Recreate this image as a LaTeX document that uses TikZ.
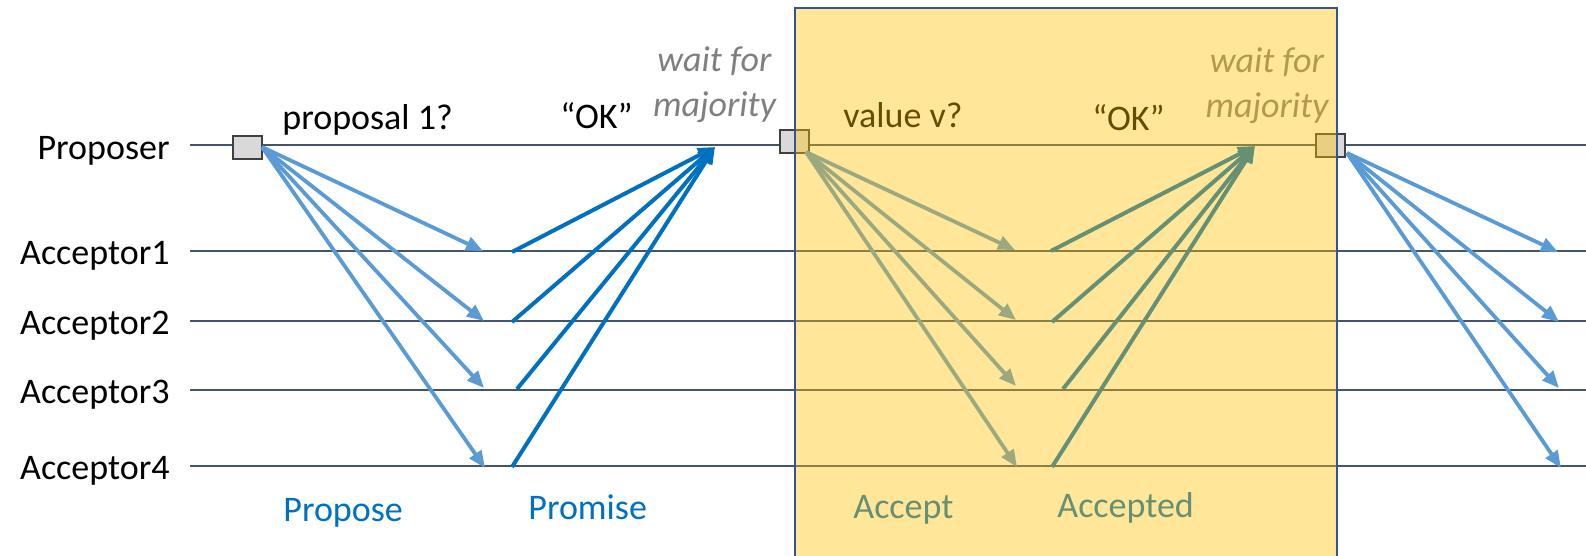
\documentclass[tikz,border=0pt]{standalone}
\usepackage{fontspec}
\setmainfont{Carlito}
\usetikzlibrary{arrows.meta}
\definecolor{lanecol}{HTML}{44546A}
\definecolor{reqblue}{HTML}{5B9BD5}
\definecolor{repblue}{HTML}{0070C0}
\definecolor{notegray}{HTML}{7F7F7F}
\definecolor{boxfill}{HTML}{D9D9D9}
\definecolor{boxline}{HTML}{404040}
\definecolor{phasefill}{HTML}{FFC000}
\definecolor{phaseline}{HTML}{2F5597}
\begin{document}
\begin{tikzpicture}[x=0.5pt,y=-0.5pt,
  lane/.style={draw=lanecol, line width=1pt},
  msgbox/.style={draw=boxline, fill=boxfill, line width=1pt, minimum width=14.5pt, minimum height=11.5pt, inner sep=0pt},
  req/.style={draw=reqblue, line width=1.9pt, -{Triangle[length=8.5pt,width=7pt]}},
  rep/.style={draw=repblue, line width=2pt, -{Triangle[length=8.5pt,width=7pt]}},
  lbl/.style={inner sep=0pt, font=\fontsize{18}{22}\selectfont},
  note/.style={inner sep=0pt, text=notegray, font=\fontsize{18}{22}\selectfont\itshape},
  phase/.style={inner sep=0pt, text=repblue, font=\fontsize{18}{22}\selectfont}]
\useasboundingbox (0,0) rectangle (1586,556);

% lifelines
\foreach \n/\y in {0/145.5,1/251,2/320.5,3/390,4/466}{
  \coordinate (s\n) at (190,\y);
  \coordinate (e\n) at (1586,\y);
  \draw[lane] (s\n) -- (e\n);
}

% role names
\node[lbl, anchor=base east] (nP) at (170,160) {Proposer};
\node[lbl, anchor=base east] (nA1) at (170,264) {Acceptor1};
\node[lbl, anchor=base east] (nA2) at (170,334) {Acceptor2};
\node[lbl, anchor=base east] (nA3) at (170,403) {Acceptor3};
\node[lbl, anchor=base east] (nA4) at (170,479) {Acceptor4};

% proposer steps
\node[msgbox] (b1) at (247,147.5) {};
\node[msgbox] (b2) at (794,141.5) {};
\node[msgbox] (b3) at (1330,145.5) {};

% phase 1: propose
\coordinate (pS) at (262,147);
\coordinate (pT1) at (483,251);
\coordinate (pT2) at (484,321);
\coordinate (pT3) at (484,388);
\coordinate (pT4) at (485,468);
\foreach \i in {1,2,3,4} \draw[req] (pS) -- (pT\i);

% phase 1: promise
\coordinate (qS1) at (512,252);
\coordinate (qS2) at (512,322);
\coordinate (qS3) at (517,389);
\coordinate (qS4) at (512,467);
\coordinate (qT) at (715,147);
\foreach \i in {1,2,3,4} \draw[rep] (qS\i) -- (qT);

% phase 2: accept
\coordinate (aS) at (806,152);
\coordinate (aT1) at (1015,250);
\coordinate (aT2) at (1016,320);
\coordinate (aT3) at (1016,386);
\coordinate (aT4) at (1017,467);
\foreach \i in {1,2,3,4} \draw[req] (aS) -- (aT\i);

% phase 2: accepted
\coordinate (cS1) at (1051,251);
\coordinate (cS2) at (1052,322);
\coordinate (cS3) at (1063,389);
\coordinate (cS4) at (1052,467);
\coordinate (cT) at (1255,146);
\foreach \i in {1,2,3,4} \draw[rep] (cS\i) -- (cT);

% next round
\coordinate (rS) at (1347,153);
\coordinate (rT1) at (1558,252);
\coordinate (rT2) at (1559,322);
\coordinate (rT3) at (1559,388);
\coordinate (rT4) at (1561,468);
\foreach \i in {1,2,3,4} \draw[req] (rS) -- (rT\i);

% message texts
\node[lbl, anchor=base west] (t1) at (282,130) {proposal 1?};
\node[lbl, anchor=base west] (t2) at (560,129) {“OK”};
\node[note, anchor=base] (w1a) at (714.5,72) {wait for};
\node[note, anchor=base] (w1b) at (714.5,117) {majority};
\node[lbl, anchor=base west] (t3) at (843,128) {value v?};
\node[lbl, anchor=base west] (t4) at (1092,131) {“OK”};
\node[note, anchor=base] (w2a) at (1267,73) {wait for};
\node[note, anchor=base] (w2b) at (1267,118) {majority};

% phase names
\node[phase, anchor=base west] (ph1) at (283,521) {Propose};
\node[phase, anchor=base west] (ph2) at (528,519) {Promise};
\node[phase, anchor=base west] (ph3) at (853,518) {Accept};
\node[phase, anchor=base west] (ph4) at (1057,517) {Accepted};

% highlighted second phase
\fill[phasefill, fill opacity=0.4] (795,8) rectangle (1337,556);
\draw[phaseline, line width=1pt] (795,556) -- (795,8) -- (1337,8) -- (1337,556);
\end{tikzpicture}
\end{document}
